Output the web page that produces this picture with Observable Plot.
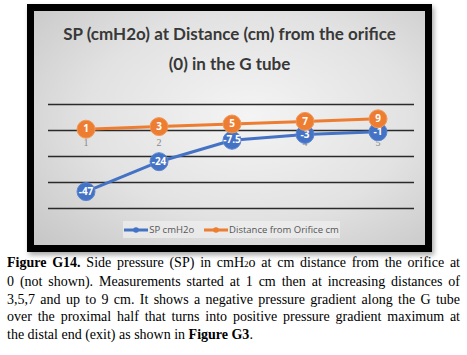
<!DOCTYPE html>
<html>
<head>
<meta charset="utf-8">
<script src="https://cdn.jsdelivr.net/npm/d3@7"></script>
<script src="https://cdn.jsdelivr.net/npm/@observablehq/plot@0.6"></script>
<style>
  html, body { margin: 0; padding: 0; background: #fff; }
  body { width: 467px; height: 355px; position: relative; overflow: hidden; }
  #frame {
    position: absolute; left: 27px; top: 4px; width: 405px; height: 248px;
    background: #000; box-shadow: 2px 3px 5px rgba(0,0,0,0.35);
  }
  #panel {
    position: absolute; left: 7px; top: 7px; width: 391px; height: 234px;
    background: radial-gradient(ellipse 75% 80% at 55% 45%, #f4f4f4 0%, #e2e2e2 55%, #c6c6c6 100%);
    overflow: hidden;
  }
  #title {
    position: absolute; left: 0; top: 8px; width: 391px; text-align: center;
    font-family: Lato, sans-serif; font-weight: 700; font-size: 17px; line-height: 30px;
    color: #383838;
  }
  #chart { position: absolute; left: 0; top: 73px; }
  #legend {
    position: absolute; left: 89px; top: 210px; width: 217px; height: 17px;
    background: rgba(240,240,240,0.7);
    font-family: "Open Sans", sans-serif; font-size: 9.5px; color: #555;
    display: flex; align-items: center; justify-content: center; gap: 10px;
  }
  .item { display: flex; align-items: center; gap: 1px; }
  #caption {
    position: absolute; left: 7px; top: 254px; width: 453px;
    font-family: "Liberation Serif", "Times New Roman", serif; font-size: 14px; line-height: 17.4px;
    color: #000;
  }
  #caption div { text-align: justify; text-align-last: justify; white-space: nowrap; }
  #caption div.last { text-align-last: left; }
</style>
</head>
<body>
<div id="frame"><div id="panel">
  <div id="title">SP (cmH2o) at Distance (cm) from the orifice<br>(0) in the G tube</div>
  <div id="chart"></div>
  <div id="legend"></div>
</div></div>
<div id="caption"></div>
<script>
const categories = ["1", "2", "3", "4", "5"];
const spValues = [-47, -24, -7.5, -3, -1];
const distanceValues = [1, 3, 5, 7, 9];
const gridTicks = [20, 0, -20, -40, -60];
const seriesNames = ["SP cmH2o", "Distance from Orifice cm"];
const seriesColors = ["#4472C4", "#ED7D31"];

const sp = categories.map((c, i) => ({cat: c, v: spValues[i], s: seriesNames[0]}));
const dist = categories.map((c, i) => ({cat: c, v: distanceValues[i], s: seriesNames[1]}));

const chart = Plot.plot({
  width: 391,
  height: 135,
  marginLeft: 14,
  marginRight: 11,
  marginTop: 20,
  marginBottom: 11,
  style: {background: "transparent", overflow: "visible"},
  x: {type: "band", domain: categories, padding: 0, axis: null},
  y: {domain: [-60, 20], axis: null},
  marks: [
    Plot.ruleY(gridTicks, {stroke: "#2a2a2a", strokeWidth: 1.3}),
    Plot.text(categories, {x: d => d, y: () => 0, dy: 12, text: d => d, fill: "#888", fontSize: 10, fontFamily: "Liberation Serif, serif"}),
    Plot.line(sp, {x: "cat", y: "v", stroke: seriesColors[0], strokeWidth: 3}),
    Plot.dot(sp, {x: "cat", y: "v", r: 9, fill: seriesColors[0], stroke: "#5a86d0", strokeWidth: 1}),
    Plot.text(sp, {x: "cat", y: "v", text: d => String(d.v), fill: "white", fontWeight: "bold", fontSize: 10, fontFamily: "Open Sans, sans-serif"}),
    Plot.line(dist, {x: "cat", y: "v", stroke: seriesColors[1], strokeWidth: 3}),
    Plot.dot(dist, {x: "cat", y: "v", r: 9, fill: seriesColors[1], stroke: "#f09a5c", strokeWidth: 1}),
    Plot.text(dist, {x: "cat", y: "v", text: d => String(d.v), fill: "white", fontWeight: "bold", fontSize: 10, fontFamily: "Open Sans, sans-serif"})
  ]
});
document.getElementById("chart").appendChild(chart);

const legend = document.getElementById("legend");
seriesNames.forEach((name, i) => {
  const item = document.createElement("div");
  item.className = "item";
  item.innerHTML = `<svg width="24" height="8"><line x1="0" y1="4" x2="24" y2="4" stroke="${seriesColors[i]}" stroke-width="3"/><circle cx="12" cy="4" r="2.8" fill="${seriesColors[i]}"/></svg><span>${name}</span>`;
  legend.appendChild(item);
});

const captionLines = [
  '<b>Figure G14.</b> Side pressure (SP) in cmH<span style="font-size:9px">2</span>o at cm distance from the orifice at',
  '0 (not shown). Measurements started at 1 cm then at increasing distances of',
  '3,5,7 and up to 9 cm. It shows a negative pressure gradient along the G tube',
  'over the proximal half that turns into positive pressure gradient maximum at',
  'the distal end (exit) as shown in <b>Figure G3</b>.'
];
const cap = document.getElementById("caption");
captionLines.forEach((l, i) => {
  const d = document.createElement("div");
  if (i === captionLines.length - 1) d.className = "last";
  d.innerHTML = l;
  cap.appendChild(d);
});
</script>
</body>
</html>
